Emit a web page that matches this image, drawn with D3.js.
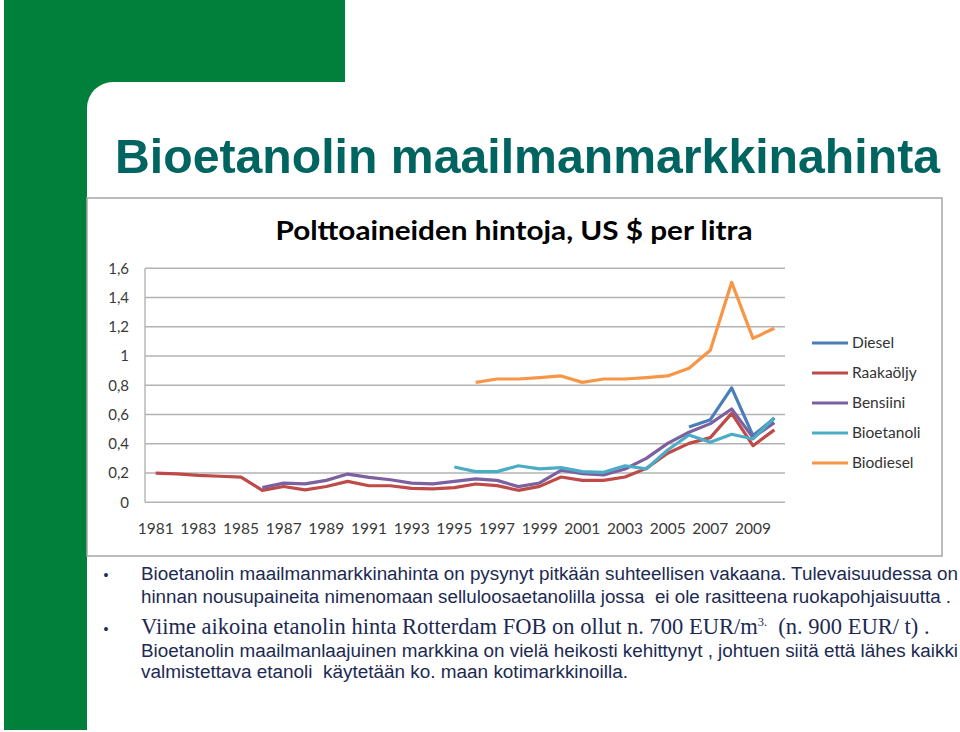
<!DOCTYPE html>
<html><head><meta charset="utf-8">
<script src="https://cdn.jsdelivr.net/npm/d3@7"></script>
<style>body{margin:0;background:#fff}svg{display:block}</style>
</head><body>
<svg id="c" width="960" height="732"></svg>
<script>
const years = d3.range(1981, 2011);
const xTickLabels = ["1981","1983","1985","1987","1989","1991","1993","1995","1997","1999","2001","2003","2005","2007","2009"];
const yTicks = [0, 0.2, 0.4, 0.6, 0.8, 1, 1.2, 1.4, 1.6];
const seriesNames = ["Diesel","Raakaöljy","Bensiini","Bioetanoli","Biodiesel"];
const seriesColors = ["#4a7ebb","#be4b48","#7d60a0","#4bacc6","#f79646"];
const N = null;
const diesel = [N,N,N,N,N,N,N,N,N,N,N,N,N,N,N,N,N,N,N,N,N,N,N,N,N,0.515,0.565,0.782,0.456,0.574];
const raakaoljy = [0.20,0.195,0.184,0.178,0.172,0.082,0.108,0.085,0.108,0.143,0.113,0.113,0.095,0.092,0.10,0.125,0.114,0.082,0.109,0.173,0.15,0.15,0.173,0.232,0.335,0.403,0.442,0.608,0.387,0.495];
const bensiini = [N,N,N,N,N,0.10,0.131,0.126,0.15,0.193,0.17,0.154,0.131,0.126,0.143,0.16,0.15,0.107,0.132,0.219,0.196,0.187,0.228,0.30,0.403,0.479,0.538,0.638,0.442,0.545];
const bioetanoli = [N,N,N,N,N,N,N,N,N,N,N,N,N,N,0.241,0.21,0.21,0.25,0.228,0.237,0.21,0.205,0.25,0.228,0.358,0.46,0.41,0.465,0.433,0.579];
const biodiesel = [N,N,N,N,N,N,N,N,N,N,N,N,N,N,N,0.82,0.843,0.843,0.852,0.864,0.82,0.843,0.843,0.852,0.864,0.916,1.04,1.504,1.121,1.19];
const seriesValues = [diesel, raakaoljy, bensiini, bioetanoli, biodiesel];

const svg = d3.select("#c");
const green = "#00803a";
// slide decoration
svg.append("rect").attr("x",4).attr("y",0).attr("width",341).attr("height",82).attr("fill",green);
svg.append("rect").attr("x",4).attr("y",0).attr("width",83).attr("height",730).attr("fill",green);
svg.append("rect").attr("x",87).attr("y",82).attr("width",60).attr("height",60).attr("fill",green);
svg.append("rect").attr("x",87).attr("y",82).attr("width",950).attr("height",750).attr("rx",26).attr("fill","#fff");

// slide title
svg.append("text").attr("x",115).attr("y",173)
  .attr("font-family","'Liberation Sans', Arial, sans-serif").attr("font-weight","bold")
  .attr("font-size",49).attr("fill","#006560")
  .attr("textLength",825).attr("lengthAdjust","spacingAndGlyphs")
  .text("Bioetanolin maailmanmarkkinahinta");

// chart frame
svg.append("rect").attr("x",87).attr("y",198).attr("width",855).attr("height",358)
  .attr("fill","#fff").attr("stroke","#a6a6a6").attr("stroke-width",1.5);

svg.append("text").attr("x",514).attr("y",240).attr("text-anchor","middle")
  .attr("font-family","Lato, 'Open Sans', sans-serif").attr("font-weight","bold")
  .attr("font-size",27).attr("fill","#000")
  .attr("textLength",477).attr("lengthAdjust","spacingAndGlyphs")
  .text("Polttoaineiden hintoja, US $ per litra");

const x = d3.scaleBand().domain(years).range([145, 785]);
const y = d3.scaleLinear().domain([0, 1.6]).range([502.3, 268.3]);
const cx = yr => x(yr) + x.bandwidth()/2;

// gridlines
const g = svg.append("g");
g.selectAll("line.grid").data(yTicks).join("line")
  .attr("x1",145).attr("x2",785).attr("y1",d=>y(d)).attr("y2",d=>y(d))
  .attr("stroke","#b3b3b3").attr("stroke-width",1.4);
g.append("line").attr("x1",145).attr("x2",145).attr("y1",y(1.6)).attr("y2",y(0))
  .attr("stroke","#b3b3b3").attr("stroke-width",1.4);

// y labels
g.selectAll("text.yl").data(yTicks).join("text")
  .attr("x",129).attr("y",d=>y(d)).attr("dy","0.35em").attr("text-anchor","end")
  .attr("font-family","Lato, sans-serif").attr("font-size",15).attr("fill","#3a3a3a")
  .text(d=>String(d).replace(".",","));

// x labels
g.selectAll("text.xl").data(xTickLabels).join("text")
  .attr("x",d=>cx(+d)).attr("y",534).attr("text-anchor","middle")
  .attr("font-family","Lato, sans-serif").attr("font-size",15.5).attr("fill","#3a3a3a")
  .text(d=>d);

// lines
const line = d3.line().defined(d=>d.v!=null).x(d=>cx(d.yr)).y(d=>y(d.v));
seriesValues.forEach((vals,i)=>{
  svg.append("path").datum(years.map((yr,j)=>({yr, v: vals[j]})))
    .attr("d",line).attr("fill","none").attr("stroke",seriesColors[i])
    .attr("stroke-width",3.2).attr("stroke-linejoin","round");
});

// legend
const lg = svg.append("g");
seriesNames.forEach((n,i)=>{
  const ly = 343 + i*30;
  lg.append("line").attr("x1",812).attr("x2",848).attr("y1",ly).attr("y2",ly)
    .attr("stroke",seriesColors[i]).attr("stroke-width",3.2);
  lg.append("text").attr("x",852).attr("y",ly).attr("dy","0.35em")
    .attr("font-family","Lato, sans-serif").attr("font-size",15.5).attr("fill","#333")
    .text(n);
});

// bottom text
const tc = "#1c2a52";
const sans = "'Liberation Sans Narrow', 'Liberation Sans', Arial, sans-serif";
const lines = [
  {t:"Bioetanolin maailmanmarkkinahinta on pysynyt pitkään suhteellisen vakaana. Tulevaisuudessa on", y:580, w:817},
  {t:"hinnan nousupaineita nimenomaan selluloosaetanolilla jossa  ei ole rasitteena ruokapohjaisuutta .", y:603, w:810},
  {t:"Bioetanolin maailmanlaajuinen markkina on vielä heikosti kehittynyt , johtuen siitä että lähes kaikki", y:657, w:817},
  {t:"valmistettava etanoli  käytetään ko. maan kotimarkkinoilla.", y:678, w:487}
];
lines.forEach(l=>{
  svg.append("text").attr("x",141).attr("y",l.y).attr("font-family",sans)
    .attr("font-size",18).attr("fill",tc)
    .style("white-space","pre")
    .attr("textLength",l.w).attr("lengthAdjust","spacingAndGlyphs").text(l.t);
});
const t3 = svg.append("text").attr("x",141).attr("y",634)
  .attr("font-family","'Liberation Serif', 'Times New Roman', serif")
  .attr("font-size",22.5).attr("fill",tc).style("white-space","pre");
t3.append("tspan").text("Viime aikoina etanolin hinta Rotterdam FOB on ollut n. 700 EUR/m");
t3.append("tspan").attr("font-size",12.5).attr("dy",-8).text("3.");
t3.append("tspan").attr("dy",8).text("  (n. 900 EUR/ t) .");
[580, 634].forEach(by=>{
  svg.append("text").attr("x",106).attr("y",by).attr("text-anchor","middle").attr("font-family",sans)
    .attr("font-size",14).attr("fill",tc).text("•");
});
</script>
</body></html>
